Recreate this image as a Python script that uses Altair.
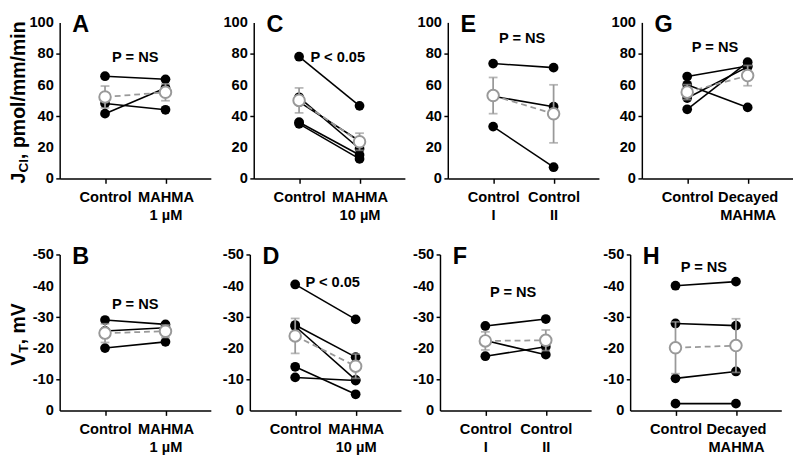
import json
import altair as alt
import pandas as pd

FONT = "Liberation Sans"
GRAY = "#999999"
W, H = 155, 160

# ---- x-axis category labels (split into lines) ----
LBL_1UM = [["Control"], ["MAHMA", "1 µM"]]
LBL_10UM = [["Control"], ["MAHMA", "10 µM"]]
LBL_CTRL = [["Control", "I"], ["Control", "II"]]
LBL_DECAY = [["Control"], ["Decayed", "MAHMA"]]

# ---- top row: J_Cl (pmol/mm/min) ----
A_CTRL = [65.5, 48.0, 41.5]
A_TRT = [63.5, 44.0, 58.0]
A_MEAN = [52.2, 55.2]
A_SEM = [7.0, 5.4]

C_CTRL = [78.0, 52.0, 49.0, 36.0, 35.0]
C_TRT = [46.5, 19.0, 24.0, 15.0, 12.5]
C_MEAN = [50.0, 23.5]
C_SEM = [8.0, 5.5]

E_CTRL = [73.6, 52.6, 33.2]
E_TRT = [71.0, 46.0, 7.2]
E_MEAN = [53.1, 41.4]
E_SEM = [11.6, 18.6]

G_CTRL = [65.3, 60.0, 51.5, 44.3]
G_TRT = [72.0, 45.5, 71.5, 74.5]
G_MEAN = [55.3, 65.9]
G_SEM = [4.8, 6.5]

# ---- bottom row: V_T (mV) ----
B_CTRL = [-29.0, -25.5, -20.0]
B_TRT = [-27.6, -26.5, -22.0]
B_MEAN = [-24.8, -25.4]
B_SEM = [3.0, 2.0]

D_CTRL = [-40.4, -27.4, -27.0, -14.0, -10.6]
D_TRT = [-29.2, -17.1, -9.8, -5.2, -9.6]
D_MEAN = [-23.9, -14.2]
D_SEM = [5.6, 3.9]

F_CTRL = [-27.1, -22.4, -17.4]
F_TRT = [-29.3, -17.9, -20.4]
F_MEAN = [-22.3, -22.5]
F_SEM = [2.9, 3.3]

H_CTRL = [-40.0, -27.9, -10.3, -2.2]
H_TRT = [-41.3, -27.2, -12.5, -2.2]
H_MEAN = [-20.1, -20.8]
H_SEM = [8.3, 8.6]

# ---- significance annotations (text, x between groups, y in data units) ----
P_TEXT = ["P = NS", "P < 0.05", "P = NS", "P = NS", "P = NS", "P < 0.05", "P = NS", "P = NS"]
P_X = [0.5, 0.64, 0.48, 0.46, 0.5, 0.62, 0.46, 0.47]
P_Y = [78, 78, 90, 84, -34, -41, -38, -46]

TOP_TICKS = [0, 20, 40, 60, 80, 100]
BOT_TICKS = [-50, -40, -30, -20, -10, 0]

WIDTHS = {"J": .556, "C": .722, "I": .278, ",": .278, " ": .278, "p": .611,
          "m": .889, "o": .611, "l": .278, "/": .278, "i": .278, "n": .611,
          "V": .667, "T": .611}


def tw(s, fs):
    return sum(WIDTHS[c] for c in s) * fs


def ytitle(main, sub, rest):
    pieces = [(main, 20, 0), (sub, 14, 4), (rest, 20, 0)]
    total = sum(tw(t, fs) for t, fs, _ in pieces)
    y = H / 2 + total / 2 + 2
    layers = []
    for t, fs, dx in pieces:
        layers.append(
            alt.Chart(pd.DataFrame({"t": [t]}))
            .mark_text(angle=270, align="left", baseline="alphabetic", font=FONT,
                       fontWeight="bold", fontSize=fs, color="black")
            .encode(x=alt.value(-36 + dx), y=alt.value(y), text="t:N")
        )
        y -= tw(t, fs)
    return layers


def panel(idx, letter, ctrl, trt, mean, sem, labels, top, title=None):
    n = len(ctrl)
    subj = pd.DataFrame({"subject": list(range(n)) * 2,
                         "x": [0] * n + [1] * n,
                         "y": ctrl + trt})
    means = pd.DataFrame({"x": [0, 1], "y": mean,
                          "lo": [m - s for m, s in zip(mean, sem)],
                          "hi": [m + s for m, s in zip(mean, sem)]})
    label_expr = ("datum.value == 0 ? " + json.dumps(labels[0], ensure_ascii=False)
                  + " : " + json.dumps(labels[1], ensure_ascii=False))
    xenc = alt.X("x:Q", scale=alt.Scale(domain=[-0.75, 1.75], nice=False, zero=False),
                 axis=alt.Axis(values=[0, 1], labelExpr=label_expr, title=None,
                               tickSize=5, labelPadding=7, labelBaseline="top",
                               labelLineHeight=18, labelFlush=False, labelOverlap=False))
    if top:
        yscale = alt.Scale(domain=[0, 100], nice=False)
        ticks = TOP_TICKS
    else:
        yscale = alt.Scale(domain=[-50, 0], reverse=True, nice=False)
        ticks = BOT_TICKS
    yaxis = alt.Axis(values=ticks, title=None, labels=False)
    yenc = alt.Y("y:Q", scale=yscale, axis=yaxis)

    base = alt.Chart(subj)
    lines = base.mark_line(color="black", strokeWidth=1.6).encode(
        x=xenc, y=yenc, detail="subject:N")
    dots = base.mark_circle(color="black", size=100, opacity=1).encode(x="x:Q", y="y:Q")
    mb = alt.Chart(means)
    err = mb.mark_rule(color=GRAY, strokeWidth=1.8).encode(x="x:Q", y="lo:Q", y2="hi:Q")
    cap_hi = mb.mark_tick(color=GRAY, thickness=1.8, size=9, orient="horizontal").encode(
        x="x:Q", y="hi:Q")
    cap_lo = mb.mark_tick(color=GRAY, thickness=1.8, size=9, orient="horizontal").encode(
        x="x:Q", y="lo:Q")
    mline = mb.mark_line(color=GRAY, strokeWidth=1.8, strokeDash=[6, 4]).encode(
        x="x:Q", y="y:Q")
    mpts = mb.mark_point(shape="circle", filled=True, fill="white", stroke=GRAY,
                         strokeWidth=2, size=140, opacity=1).encode(x="x:Q", y="y:Q")
    ptxt = alt.Chart(pd.DataFrame({"x": [P_X[idx]], "y": [P_Y[idx]], "t": [P_TEXT[idx]]})
                     ).mark_text(font=FONT, fontWeight="bold", fontSize=15, color="black"
                                 ).encode(x="x:Q", y="y:Q", text="t:N")
    # y tick labels, placed through the y scale
    ylab = alt.Chart(pd.DataFrame({"y": ticks, "t": [str(v) for v in ticks]})).mark_text(
        align="right", baseline="middle", font=FONT, fontWeight="bold", fontSize=15,
        color="black").encode(x=alt.value(-6), y="y:Q", text="t:N")
    let = alt.Chart(pd.DataFrame({"t": [letter]})).mark_text(
        align="left", baseline="middle", font=FONT, fontWeight="bold", fontSize=24,
        color="black").encode(x=alt.value(13), y=alt.value(3), text="t:N")
    layers = [lines, dots, err, cap_hi, cap_lo, mline, mpts, ptxt, ylab, let]
    if title is not None:
        layers += ytitle(*title)
    return alt.layer(*layers).properties(width=W, height=H)


row1 = alt.hconcat(
    panel(0, "A", A_CTRL, A_TRT, A_MEAN, A_SEM, LBL_1UM, True, ("J", "CI", ", pmol/mm/min")),
    panel(1, "C", C_CTRL, C_TRT, C_MEAN, C_SEM, LBL_10UM, True),
    panel(2, "E", E_CTRL, E_TRT, E_MEAN, E_SEM, LBL_CTRL, True),
    panel(3, "G", G_CTRL, G_TRT, G_MEAN, G_SEM, LBL_DECAY, True),
    spacing=12,
)
row2 = alt.hconcat(
    panel(4, "B", B_CTRL, B_TRT, B_MEAN, B_SEM, LBL_1UM, False, ("V", "T", ", mV")),
    panel(5, "D", D_CTRL, D_TRT, D_MEAN, D_SEM, LBL_10UM, False),
    panel(6, "F", F_CTRL, F_TRT, F_MEAN, F_SEM, LBL_CTRL, False),
    panel(7, "H", H_CTRL, H_TRT, H_MEAN, H_SEM, LBL_DECAY, False),
    spacing=12,
)

chart = alt.vconcat(row1, row2, spacing=24).properties(
    padding=0, background="white"
).configure_view(stroke=None).configure_axis(
    grid=False, domainColor="black", domainWidth=1.5, tickColor="black", tickWidth=1.5,
    tickSize=4, labelFont=FONT, labelFontWeight="bold", labelFontSize=15,
    labelColor="black", labelPadding=2,
)

chart.save("out.html", embed_options={"renderer": "svg", "actions": False})
